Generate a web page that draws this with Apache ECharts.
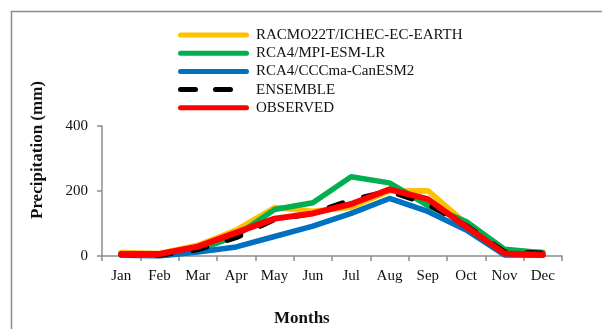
<!DOCTYPE html>
<html>
<head>
<meta charset="utf-8">
<script src="https://cdn.jsdelivr.net/npm/echarts@6/dist/echarts.min.js"></script>
<style>
html,body{margin:0;padding:0;background:#fff;}
#c{width:602px;height:329px;}
</style>
</head>
<body>
<div id="c"></div>
<script>
var months = ['Jan','Feb','Mar','Apr','May','Jun','Jul','Aug','Sep','Oct','Nov','Dec'];
var racmo = [11, 8, 33, 80, 149, 138, 150, 200, 201, 100, 15, 12];
var mpi = [5, 4, 18, 62, 143, 164, 244, 225, 155, 106, 21, 10];
var canesm = [2, 0, 12, 28, 60, 92, 131, 177, 137, 80, 3, 2];
var ensemble = [5, 3, 20, 57, 113, 131, 172, 200, 160, 93, 12, 8];
var observed = [6, 6, 29, 72, 115, 131, 160, 205, 175, 90, 8, 4];
var seriesNames = ['RACMO22T/ICHEC-EC-EARTH','RCA4/MPI-ESM-LR','RCA4/CCCma-CanESM2','ENSEMBLE','OBSERVED'];
var yTicks = [0, 200, 400];

var FONT = '"Liberation Serif", "DejaVu Serif", serif';
var chart = echarts.init(document.getElementById('c'), null, {renderer:'canvas'});

var solidIcon = 'path://M2.5,0H68.5A2.5,2.5,0,0,1,68.5,5H2.5A2.5,2.5,0,0,1,2.5,0Z';
var dashIcon = 'path://M2.5,0H17.5A2.5,2.5,0,0,1,17.5,5H2.5A2.5,2.5,0,0,1,2.5,0Z' +
  'M37.5,0H52.5A2.5,2.5,0,0,1,52.5,5H37.5A2.5,2.5,0,0,1,37.5,0Z' +
  'M70.99,0H71V5H70.99Z';

function mk(name, data, color, type, width){
  return {
    name: name, type: 'line', data: data, symbol: 'none',
    lineStyle: {color: color, width: width, type: type, cap: 'round', join: 'round'},
    itemStyle: {color: color},
    emphasis: {disabled: true}, animation: false
  };
}

chart.setOption({
  animation: false,
  textStyle: {fontFamily: FONT},
  graphic: [
    {type:'polyline', silent:true, shape:{points:[[11.5,340],[11.5,11.5],[620,11.5]]},
     style:{stroke:'#8c8c8c', lineWidth:1.5, fill:null}},
    {type:'text', silent:true, left: 274, top: 310,
     style:{text:'Months', font:'bold 17px ' + FONT, fill:'#111'}},
    {type:'text', silent:true, x: 29, y: 219, rotation: Math.PI/2,
     style:{text:'Precipitation (mm)', font:'bold 17px ' + FONT, fill:'#111'}}
  ],
  legend: {
    orient: 'vertical', left: 178, top: 26, padding: 0,
    itemWidth: 71, itemHeight: 5.5, itemGap: 0.2,
    textStyle: {fontFamily: FONT, fontSize: 15, color: '#111', padding:[0,0,0,2], lineHeight: 18},
    data: [
      {name: seriesNames[0], icon: solidIcon},
      {name: seriesNames[1], icon: solidIcon},
      {name: seriesNames[2], icon: solidIcon},
      {name: seriesNames[3], icon: dashIcon},
      {name: seriesNames[4], icon: solidIcon}
    ]
  },
  grid: {left: 102, right: 40, top: 126, bottom: 73},
  xAxis: {
    type: 'category', data: months, boundaryGap: true,
    axisLine: {lineStyle: {color: '#8c8c8c', width: 1.5}},
    axisTick: {show: true, alignWithLabel: false, length: 5, lineStyle:{color:'#8c8c8c', width:1.5}},
    axisLabel: {fontFamily: FONT, fontSize: 15, color: '#111', margin: 13},
    splitLine: {show: false}
  },
  yAxis: {
    type: 'value', min: yTicks[0], max: yTicks[yTicks.length-1], interval: 200,
    axisLine: {show: true, lineStyle: {color: '#8c8c8c', width: 1.5}},
    axisTick: {show: true, length: 5, lineStyle:{color:'#8c8c8c', width:1.5}},
    axisLabel: {fontFamily: FONT, fontSize: 15, color: '#111', margin: 14},
    splitLine: {show: false}
  },
  series: [
    mk(seriesNames[0], racmo, '#FFC000', 'solid', 5.5),
    mk(seriesNames[1], mpi, '#00B050', 'solid', 5.5),
    mk(seriesNames[2], canesm, '#0070C0', 'solid', 5.5),
    mk(seriesNames[3], ensemble, '#000000', [14, 22], 5.5),
    mk(seriesNames[4], observed, '#FF0000', 'solid', 6)
  ]
});
</script>
</body>
</html>
